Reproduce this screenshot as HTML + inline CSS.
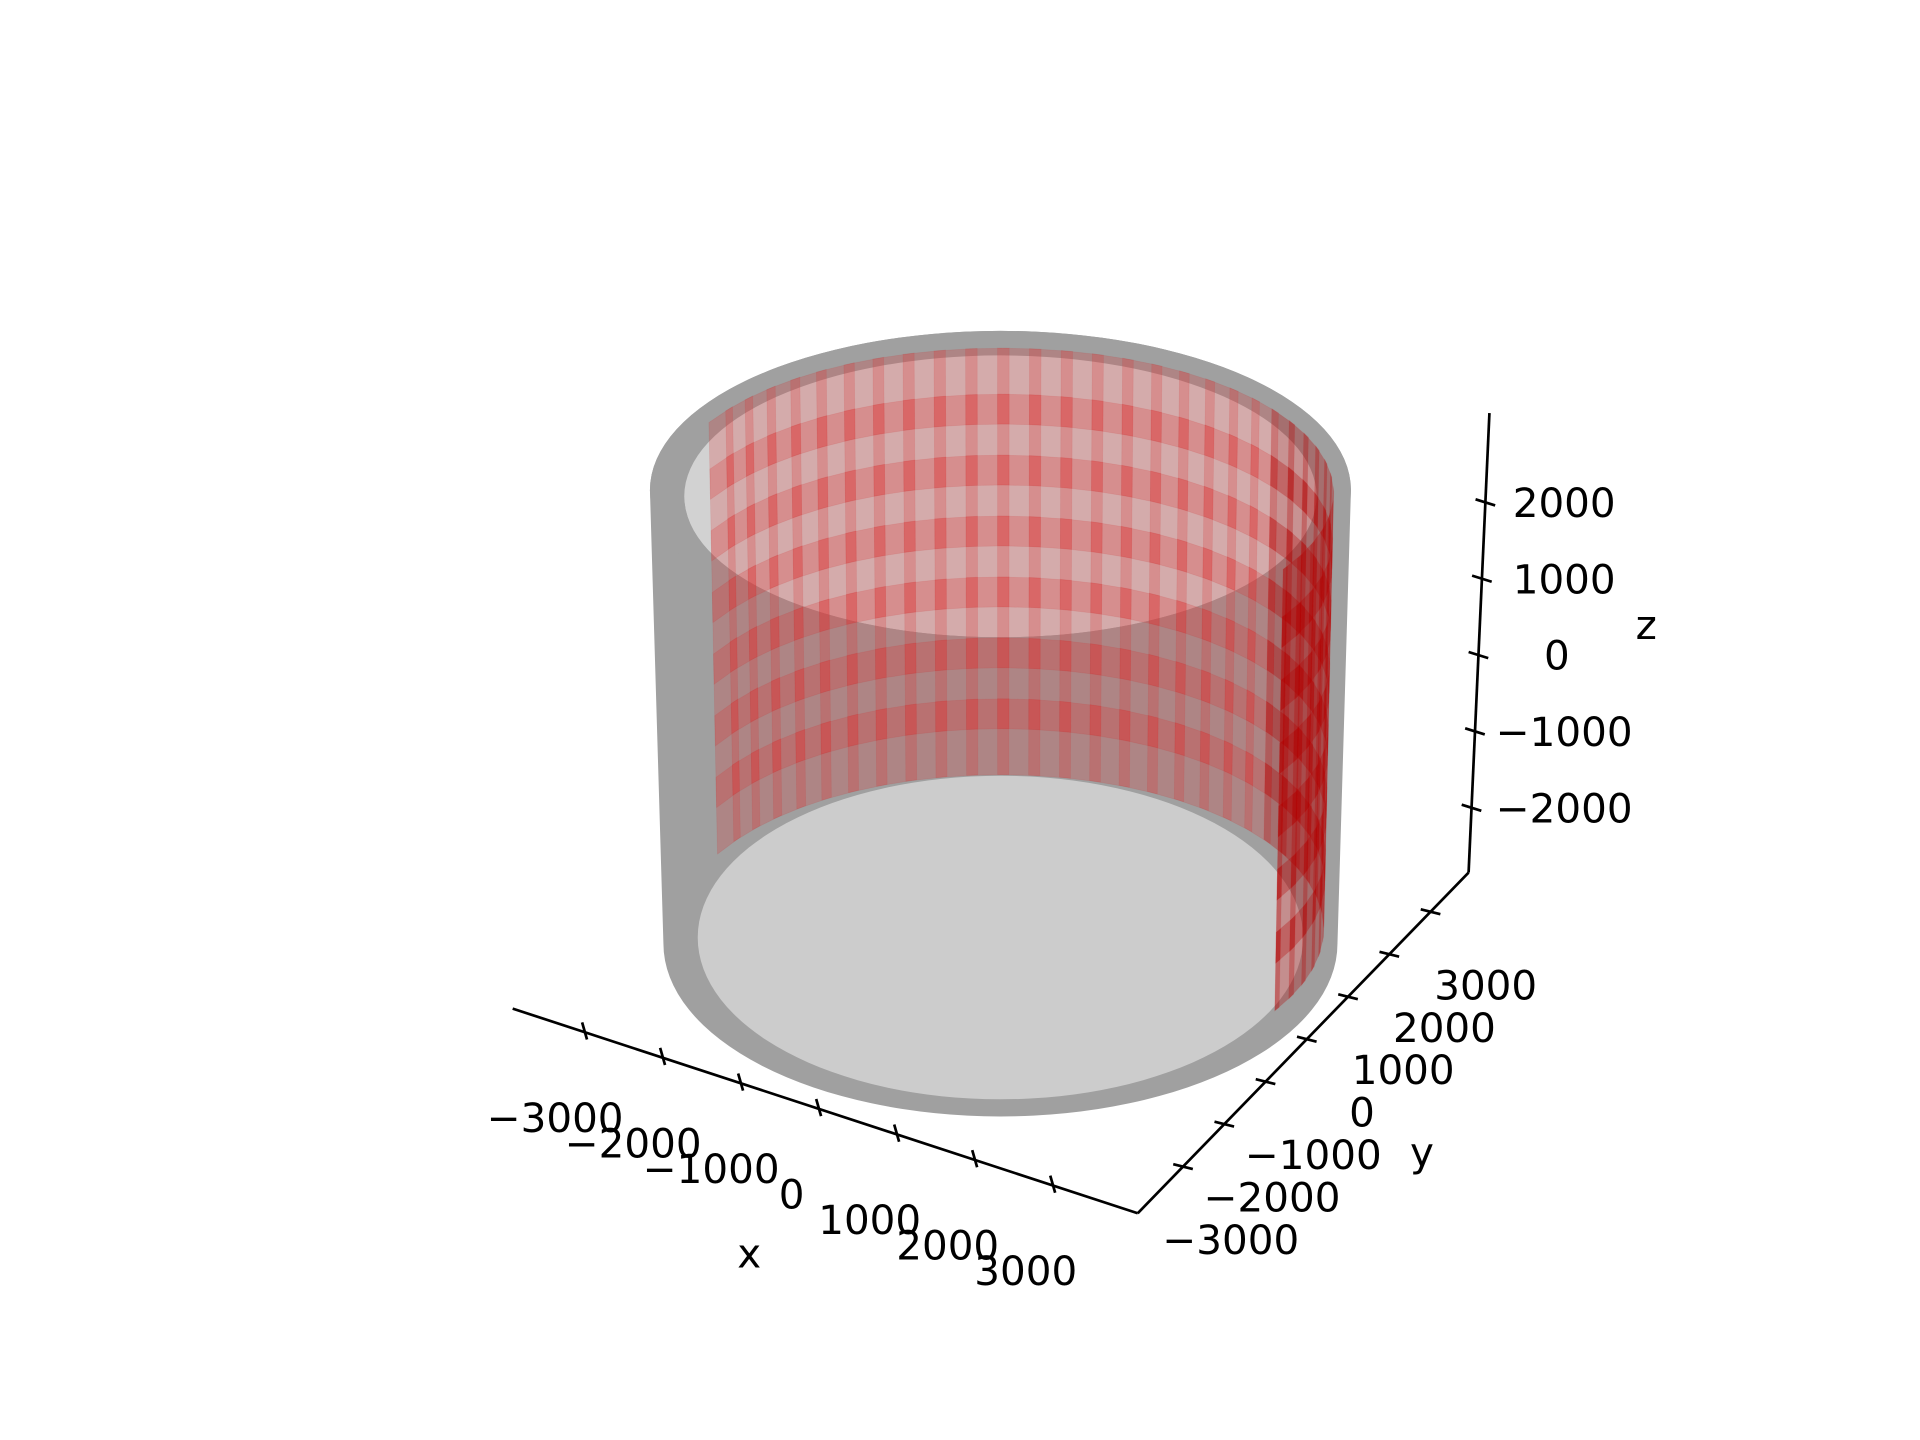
<!DOCTYPE html>
<html><head><meta charset="utf-8"><style>
html,body{margin:0;padding:0;background:#fff;}
svg{display:block;}
text{font-family:"DejaVu Sans","Liberation Sans",sans-serif;fill:#000;}
</style></head><body>
<svg id="chart" width="1920" height="1440" viewBox="0 0 1566 1175" xmlns="http://www.w3.org/2000/svg">
<g id="body"></g>
<g id="red"></g>
<g id="axes"></g>
</svg>
<script>
const xTicks = [-3000, -2000, -1000, 0, 1000, 2000, 3000];
const yTicks = [-3000, -2000, -1000, 0, 1000, 2000, 3000];
const zTicks = [-2000, -1000, 0, 1000, 2000];
const redThetaStart = -150, redThetaEnd = 32, redThetaStep = 5.5;
const redRows = [0, 1, 2, 3, 4, 5, 6, 7];

const NS = "http://www.w3.org/2000/svg";
function mk(tag, attrs, parent) {
  const e = document.createElementNS(NS, tag);
  for (const k in attrs) e.setAttribute(k, attrs[k]);
  parent.appendChild(e);
  return e;
}
const gBody = document.getElementById('body');
const gRed = document.getElementById('red');
const gAx = document.getElementById('axes');

const T = {cx: 816, cy: 400, rx: 286, ry: 130};
const B = {cx: 816, cy: 770, rx: 275, ry: 141};
let p = mk('path', {d: `M${T.cx-T.rx},${T.cy} A${T.rx},${T.ry} 0 0 1 ${T.cx+T.rx},${T.cy} L${B.cx+B.rx},${B.cy} A${B.rx},${B.ry} 0 0 1 ${B.cx-B.rx},${B.cy} Z`, fill: '#a0a0a0'}, gBody);


p = mk('ellipse', {cx: T.cx, cy: T.cy, rx: T.rx, ry: T.ry, fill: '#a0a0a0'}, gBody);


p = mk('ellipse', {cx: 816, cy: 405, rx: 258, ry: 115, fill: '#d2d2d2'}, gBody);


p = mk('path', {d: 'M558,405 A258,115 0 0 0 1074,405 L1062,765 A247,132 0 0 0 569,765 Z', fill: '#a0a0a0'}, gBody);


p = mk('ellipse', {cx: 816, cy: 765, rx: 247, ry: 132, fill: '#cccccc'}, gBody);



const RT = {cx: 816, cy: 402, rx: 272, ry: 118};
const RB = {cx: 816, cy: 758, rx: 264, ry: 126};
function proj(thDeg, h) {
  const t = thDeg * Math.PI / 180;
  const cx = RB.cx + (RT.cx - RB.cx) * h, cy = RB.cy + (RT.cy - RB.cy) * h;
  const rx = RB.rx + (RT.rx - RB.rx) * h, ry = RB.ry + (RT.ry - RB.ry) * h;
  return [cx + rx * Math.cos(t), cy + ry * Math.sin(t)];
}
const nRows = redRows.length - 1;
const thetas = [];
for (let t = redThetaStart; t < redThetaEnd; t += redThetaStep) thetas.push(t);
function drawPanels(front) {
  for (const t0 of thetas) {
    const tm = t0 + redThetaStep / 2;
    const isFront = Math.sin(tm * Math.PI / 180) > 0.05 || Math.cos(tm * Math.PI / 180) > 0.85;
    if (isFront !== front) continue;
    for (let r = 0; r < nRows; r++) {
      const a = t0 - 1.0, b = Math.min(t0 + redThetaStep + 1.0, redThetaEnd);
      const h0 = Math.max(0, redRows[r] / nRows - 0.035), h1 = Math.min(1, redRows[r + 1] / nRows + 0.035);
      const pts = [proj(a, h0), proj(b, h0), proj(b, h1), proj(a, h1)];
      const q = mk('polygon', {points: pts.map(v => v.join(',')).join(' '),
        fill: front ? 'rgba(180,0,0,0.3)' : 'rgba(220,50,50,0.24)',
        stroke: 'rgba(200,40,40,0.12)', 'stroke-width': 0.6}, gRed);
      
      
    }
  }
}
drawPanels(false);
drawPanels(true);

function line(x1, y1, x2, y2, name) {
  const l = mk('line', {x1, y1, x2, y2, stroke: '#000', 'stroke-width': 2.2}, gAx);
  
  
}
function label(x, y, s, name, anchor) {
  const t = mk('text', {x, y, 'font-size': 33, 'text-anchor': anchor || 'middle', 'dominant-baseline': 'central'}, gAx);
  t.textContent = s;
  
  
}
const fmt = v => v < 0 ? '\u2212' + Math.abs(v) : String(v);

const xA = [418, 823], xB = [928, 990];
line(xA[0], xA[1], xB[0], xB[1], 'x-axis-line');
const xPos = v => { const f = 0.115 + (v + 3000) / 6000 * 0.749; return [xA[0] + (xB[0]-xA[0]) * f, xA[1] + (xB[1]-xA[1]) * f]; };
xTicks.forEach(v => {
  const [x, y] = xPos(v);
  line(x - 2, y - 8, x + 2, y + 6, 'x-tick');
  label(x - 22 + (v < 0 ? -2 : 0), y + 70, fmt(v), 'x-tick-label');
});
label(611, 1023, 'x', 'x-axis-title');

const yA = [928, 990], yB = [1198, 712];
line(yA[0], yA[1], yB[0], yB[1], 'y-axis-line');
const yPos = v => { const f = 0.137 + (v + 3000) / 6000 * 0.748; return [yA[0] + (yB[0]-yA[0]) * f, yA[1] + (yB[1]-yA[1]) * f]; };
yTicks.forEach(v => {
  const [x, y] = yPos(v);
  line(x - 8, y - 2, x + 8, y + 2, 'y-tick');
  label(x + 45 + (v < 0 ? -6 : 0), y + 60, fmt(v), 'y-tick-label');
});
label(1160, 940, 'y', 'y-axis-title');

const zA = [1198, 712], zB = [1215, 337];
line(zA[0], zA[1], zB[0], zB[1], 'z-axis-line');
const zPy = v => 535 - v * 0.0623;
const zPx = y => zA[0] + (zB[0]-zA[0]) * (zA[1] - y) / (zA[1] - zB[1]);
zTicks.forEach(v => {
  const y = zPy(v), x = zPx(y);
  line(x - 8, y - 3, x + 8, y + 2, 'z-tick');
  label(v === 0 ? 1270 : 1276, y, fmt(v), 'z-tick-label');
});
label(1343, 510, 'z', 'z-axis-title');
</script>
</body></html>
